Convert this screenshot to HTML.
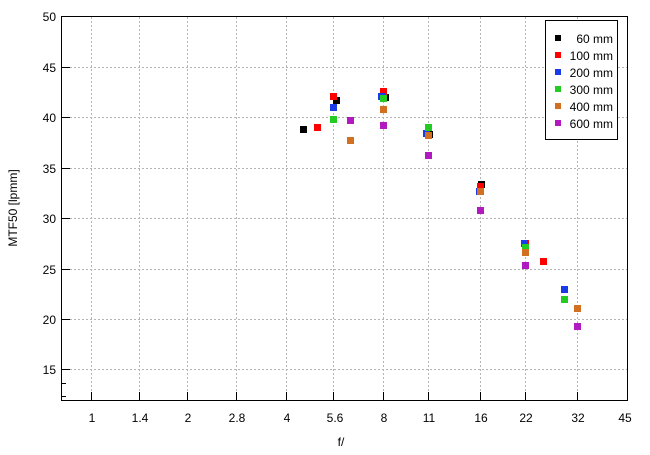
<!DOCTYPE html>
<html><head><meta charset="utf-8"><style>
html,body{margin:0;padding:0;background:#fff;}
svg{display:block;font-family:"Liberation Sans",sans-serif;}
</style></head><body>
<svg width="650" height="455" viewBox="0 0 650 455" xmlns="http://www.w3.org/2000/svg">
<rect width="650" height="455" fill="#fff"/>
<g stroke="#b4b4b4" stroke-width="1" stroke-dasharray="2,2" fill="none">
<line x1="62" x2="627" y1="67.5" y2="67.5"/>
<line x1="62" x2="627" y1="117.5" y2="117.5"/>
<line x1="62" x2="627" y1="168.5" y2="168.5"/>
<line x1="62" x2="627" y1="218.5" y2="218.5"/>
<line x1="62" x2="627" y1="269.5" y2="269.5"/>
<line x1="62" x2="627" y1="319.5" y2="319.5"/>
<line x1="62" x2="627" y1="369.5" y2="369.5"/>
<line x1="91.5" x2="91.5" y1="17" y2="400"/>
<line x1="139.5" x2="139.5" y1="17" y2="400"/>
<line x1="187.5" x2="187.5" y1="17" y2="400"/>
<line x1="236.5" x2="236.5" y1="17" y2="400"/>
<line x1="286.5" x2="286.5" y1="17" y2="400"/>
<line x1="333.5" x2="333.5" y1="17" y2="400"/>
<line x1="383.5" x2="383.5" y1="17" y2="400"/>
<line x1="428.5" x2="428.5" y1="17" y2="400"/>
<line x1="480.5" x2="480.5" y1="17" y2="400"/>
<line x1="525.5" x2="525.5" y1="17" y2="400"/>
<line x1="577.5" x2="577.5" y1="17" y2="400"/>
</g>
<g stroke="#000" stroke-width="1">
<line x1="62" x2="70" y1="67.5" y2="67.5"/><line x1="62" x2="70" y1="117.5" y2="117.5"/>
<line x1="62" x2="70" y1="168.5" y2="168.5"/><line x1="62" x2="70" y1="218.5" y2="218.5"/>
<line x1="62" x2="70" y1="269.5" y2="269.5"/><line x1="62" x2="70" y1="319.5" y2="319.5"/>
<line x1="62" x2="70" y1="369.5" y2="369.5"/>
<line x1="62" x2="66" y1="383.5" y2="383.5"/><line x1="62" x2="66" y1="396.5" y2="396.5"/>
<line x1="91.5" x2="91.5" y1="392" y2="400"/><line x1="139.5" x2="139.5" y1="392" y2="400"/>
<line x1="187.5" x2="187.5" y1="392" y2="400"/><line x1="236.5" x2="236.5" y1="392" y2="400"/>
<line x1="286.5" x2="286.5" y1="392" y2="400"/><line x1="333.5" x2="333.5" y1="392" y2="400"/>
<line x1="383.5" x2="383.5" y1="392" y2="400"/><line x1="428.5" x2="428.5" y1="392" y2="400"/>
<line x1="480.5" x2="480.5" y1="392" y2="400"/><line x1="525.5" x2="525.5" y1="392" y2="400"/>
<line x1="577.5" x2="577.5" y1="392" y2="400"/>
</g>
<rect x="61.5" y="16.5" width="566" height="384" fill="none" stroke="#000"/>
<g font-size="12" fill="#000" text-anchor="end">
<text x="56" y="21">50</text><text x="56" y="72">45</text><text x="56" y="122">40</text>
<text x="56" y="173">35</text><text x="56" y="223">30</text><text x="56" y="274">25</text>
<text x="56" y="324">20</text><text x="56" y="374">15</text>
</g>
<g font-size="12" fill="#000" text-anchor="middle">
<text x="92" y="422">1</text><text x="140" y="422">1.4</text><text x="188" y="422">2</text>
<text x="237" y="422">2.8</text><text x="287" y="422">4</text><text x="335" y="422">5.6</text>
<text x="384" y="422">8</text><text x="429" y="422">11</text><text x="481" y="422">16</text>
<text x="526" y="422">22</text><text x="578" y="422">32</text><text x="625" y="422">45</text>
<text x="341" y="446">f/</text>
<text transform="translate(17,208) rotate(-90)">MTF50 [lpmm]</text>
</g>
<g>
<!-- black -->
<g fill="#000"><rect x="300" y="126" width="7" height="7"/><rect x="333" y="97" width="7" height="7"/><rect x="382" y="94" width="7" height="7"/><rect x="426" y="131" width="7" height="7"/><rect x="478" y="181" width="7" height="7"/></g>
<g fill="#ff0000"><rect x="314" y="124" width="7" height="7"/><rect x="330" y="93" width="7" height="7"/><rect x="380" y="88" width="7" height="7"/><rect x="477" y="183" width="7" height="7"/><rect x="522" y="240" width="7" height="7"/><rect x="540" y="258" width="7" height="7"/></g>
<g fill="#1a3ce8"><rect x="330" y="104" width="7" height="7"/><rect x="378" y="93" width="7" height="7"/><rect x="423" y="130" width="7" height="7"/><rect x="476" y="188" width="7" height="7"/><rect x="521" y="240" width="7" height="7"/><rect x="561" y="286" width="7" height="7"/></g>
<g fill="#22cc22"><rect x="330" y="116" width="7" height="7"/><rect x="380" y="95" width="7" height="7"/><rect x="425" y="124" width="7" height="7"/><rect x="522" y="244" width="7" height="7"/><rect x="561" y="296" width="7" height="7"/></g>
<g fill="#d07020"><rect x="347" y="137" width="7" height="7"/><rect x="380" y="106" width="7" height="7"/><rect x="425" y="132" width="7" height="7"/><rect x="477" y="188" width="7" height="7"/><rect x="522" y="249" width="7" height="7"/><rect x="574" y="305" width="7" height="7"/></g>
<g fill="#b01ac0"><rect x="347" y="117" width="7" height="7"/><rect x="380" y="122" width="7" height="7"/><rect x="425" y="152" width="7" height="7"/><rect x="477" y="207" width="7" height="7"/><rect x="522" y="262" width="7" height="7"/><rect x="574" y="323" width="7" height="7"/></g>
</g>
<rect x="545.5" y="20.5" width="72" height="119" fill="#fff" stroke="#000"/>
<g font-size="12" fill="#000" text-anchor="end">
<rect x="555" y="35" width="6" height="6" fill="#000"/><text x="613" y="43">60 mm</text>
<rect x="555" y="52" width="6" height="6" fill="#ff0000"/><text x="613" y="60">100 mm</text>
<rect x="555" y="69" width="6" height="6" fill="#1a3ce8"/><text x="613" y="77">200 mm</text>
<rect x="555" y="86" width="6" height="6" fill="#22cc22"/><text x="613" y="94">300 mm</text>
<rect x="555" y="103" width="6" height="6" fill="#d07020"/><text x="613" y="111">400 mm</text>
<rect x="555" y="120" width="6" height="6" fill="#b01ac0"/><text x="613" y="128">600 mm</text>
</g>
</svg>
</body></html>
